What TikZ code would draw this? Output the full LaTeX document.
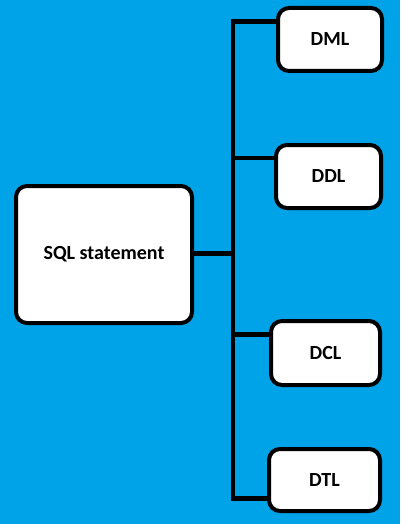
\documentclass[tikz,border=0pt]{standalone}
\usepackage{fontspec}
\setmainfont{Carlito}
\definecolor{paintblue}{HTML}{00A2E8}

\begin{document}
\begin{tikzpicture}[x=1pt, y=-1pt,
    box/.style={rectangle, rounded corners=11pt, draw=black, line width=4pt, fill=white,
      font=\fontsize{20}{24}\selectfont\bfseries},
    link/.style={line width=4.5pt, draw=black}]
      \fill[paintblue] (0,0) rectangle (400,524);
      \useasboundingbox (0,0) rectangle (400,524);

      \node[box, minimum width=176pt, minimum height=137pt](SQL) at (104.0, 254.5){SQL statement};
      \node[box, minimum width=104pt, minimum height=63pt](DML) at (330.0, 39.5){DML};
      \node[box, minimum width=105pt, minimum height=63pt](DDL) at (328.5, 176.5){DDL};
      \node[box, minimum width=109pt, minimum height=64pt](DCL) at (325.5, 353.0){DCL};
      \node[box, minimum width=111pt, minimum height=62pt](DTL) at (324.5, 480.0){DTL};

      \coordinate (top) at (233, 21.5);
      \coordinate (mid) at (233, 253.5);
      \coordinate (bot) at (233, 498.5);

      \draw[link] (top -| DML.west) -- (top) -- (bot) -- (bot -| DTL.west);
      \draw[link] (SQL.east |- mid) -- (mid);
      \draw[link] (233, 158) -- (DDL.west |- 233, 158);
      \draw[link] (233, 334.5) -- (DCL.west |- 233, 334.5);
    \end{tikzpicture}
\end{document}
